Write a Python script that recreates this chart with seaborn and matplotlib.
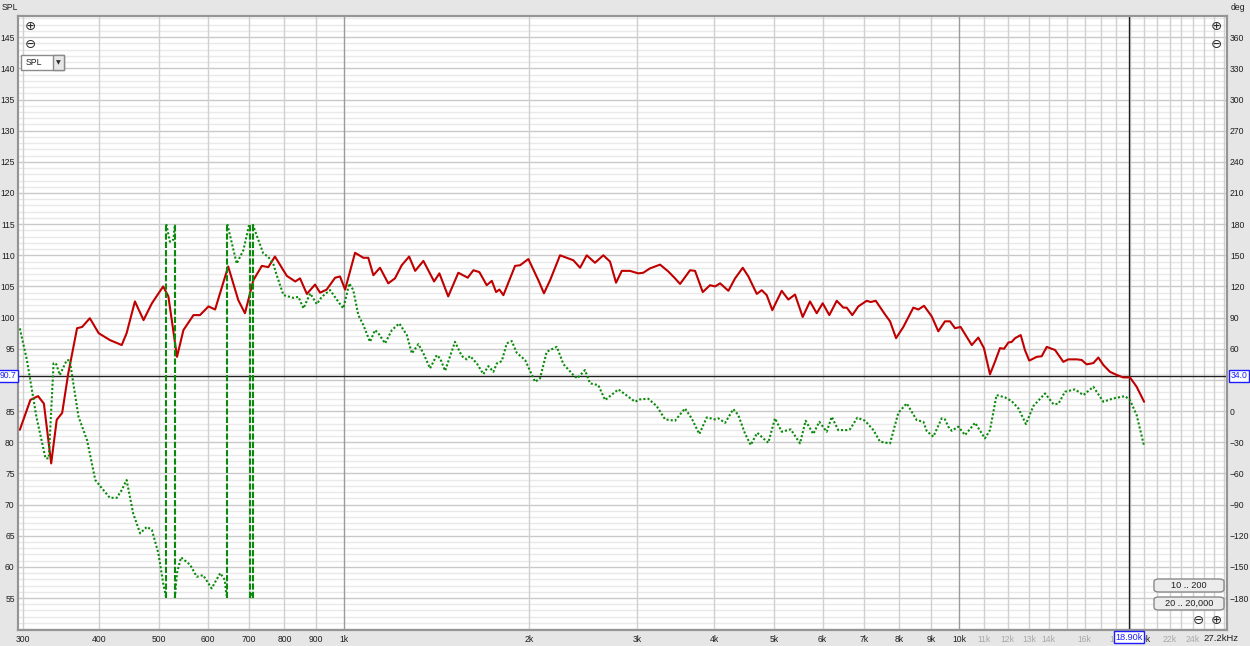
import numpy as np
import pandas as pd
import matplotlib
matplotlib.use("Agg")
import matplotlib.pyplot as plt
import matplotlib.transforms as mtransforms
from matplotlib.patches import FancyBboxPatch
import seaborn as sns

# SPL measurement (Hz, dB)
red_freq = [297, 309, 318, 325, 334, 341, 348, 356, 368, 375, 386, 399, 416, 435, 443, 457, 472, 487,
            508, 518, 535, 548, 569, 583, 602, 617, 648, 673, 690, 712, 735, 753, 772, 807, 833, 848,
            870, 897, 914, 937, 967, 985, 1004, 1042, 1075, 1095, 1116, 1144, 1180, 1210, 1241, 1276,
            1305, 1346, 1401, 1429, 1477, 1534, 1589, 1623, 1660, 1706, 1739, 1767, 1789, 1816, 1897,
            1933, 1994, 2070, 2114, 2163, 2245, 2302, 2360, 2420, 2481, 2559, 2640, 2707, 2769, 2829,
            2917, 3009, 3066, 3144, 3265, 3368, 3453, 3519, 3653, 3722, 3831, 3937, 4012, 4088, 4217,
            4324, 4450, 4545, 4690, 4778, 4868, 4971, 5149, 5278, 5412, 5570, 5724, 5870, 6003, 6154,
            6327, 6485, 6568, 6707, 6860, 7079, 7186, 7322, 7582, 7725, 7901, 8119, 8429, 8588, 8773,
            9029, 9255, 9489, 9669, 9851, 10060, 10490, 10750, 10980, 11230, 11440, 11660, 11840,
            12030, 12180, 12340, 12600, 12800, 13010, 13380, 13630, 13890, 14330, 14780, 15060,
            15540, 15830, 16130, 16540, 16850, 17170, 17600, 18050, 18500, 18970, 19450, 20000]
red_spl = [82.0, 86.8, 87.4, 86.2, 76.6, 83.6, 84.7, 91.0, 98.3, 98.5, 99.9, 97.5, 96.4, 95.6, 97.5,
           102.6, 99.6, 102.3, 105.0, 103.4, 93.7, 98.0, 100.4, 100.4, 101.8, 101.3, 108.2, 102.8,
           100.7, 106.0, 108.3, 108.1, 109.8, 106.7, 105.8, 106.3, 103.8, 105.3, 104.0, 104.5, 106.4,
           106.6, 104.5, 110.4, 109.6, 109.6, 106.8, 108.0, 105.5, 106.3, 108.4, 109.8, 107.5, 109.1,
           105.8, 107.1, 103.4, 107.2, 106.4, 107.6, 107.3, 105.2, 105.9, 104.1, 104.5, 103.6, 108.3,
           108.4, 109.4, 106.0, 103.9, 106.0, 110.0, 109.6, 109.2, 108.0, 110.0, 108.8, 110.0, 109.0,
           105.6, 107.5, 107.5, 107.1, 107.2, 107.9, 108.5, 107.4, 106.3, 105.4, 107.6, 107.5, 104.1,
           105.2, 105.0, 105.5, 104.3, 106.3, 108.0, 106.6, 103.8, 104.4, 103.6, 101.2, 104.3, 102.9,
           103.7, 100.1, 102.6, 100.7, 102.3, 100.4, 102.7, 101.6, 101.6, 100.4, 101.8, 102.7, 102.5,
           102.7, 100.5, 99.4, 96.7, 98.5, 101.6, 101.3, 101.9, 100.2, 97.8, 99.4, 99.4, 98.3, 98.5,
           95.6, 96.8, 95.1, 90.9, 92.9, 95.1, 95.0, 96.0, 96.1, 96.7, 97.2, 94.8, 93.1, 93.7, 93.8,
           95.3, 94.8, 92.9, 93.3, 93.3, 93.2, 92.5, 92.7, 93.6, 92.4, 91.3, 90.8, 90.4, 90.4, 88.9,
           86.5]

# phase (Hz, deg, unwrapped) - wrapped to +-180 when drawn
ph_freq = [297, 305, 316, 327, 331, 337, 340, 345, 354, 358, 370, 382, 394, 404, 416, 427, 435, 443,
           454, 466, 478, 487, 499, 508, 521, 528, 535, 543, 562, 576, 590, 609, 629, 640, 643, 669,
           686, 700, 707, 714, 739, 753, 767, 777, 797, 827, 843, 859, 881, 903, 920, 949, 979, 997,
           1020, 1035, 1055, 1075, 1102, 1123, 1137, 1166, 1196, 1230, 1265, 1289, 1321, 1346, 1380,
           1415, 1433, 1460, 1515, 1554, 1583, 1603, 1644, 1685, 1717, 1749, 1772, 1805, 1839, 1874,
           1909, 1970, 2045, 2083, 2136, 2218, 2273, 2360, 2395, 2465, 2512, 2591, 2658, 2793, 2882,
           2973, 3029, 3124, 3224, 3327, 3453, 3584, 3675, 3782, 3889, 4012, 4062, 4166, 4295, 4376,
           4487, 4584, 4699, 4806, 4897, 5021, 5149, 5326, 5514, 5632, 5795, 5927, 6094, 6209, 6364,
           6568, 6650, 6833, 7035, 7257, 7441, 7725, 7969, 8222, 8537, 8750, 8862, 9083, 9373, 9489,
           9608, 9730, 9975, 10230, 10620, 11020, 11230, 11510, 11880, 12180, 12490, 12850, 13210,
           13800, 14240, 14510, 14870, 15440, 15930, 16540, 17170, 17820, 18620, 18970, 19450, 20000]
ph_deg = [79.6, 49, -5.5, -45.5, -45.5, 46, 46, 34.7, 49, 49, -5.5, -28, -66.4, -74.4, -83.5, -83.5,
          -76, -66.4, -98.5, -117.7, -111.4, -114.5, -137, -165.8, -197, -195, -156, -140.8, -148,
          -159.5, -158, -170.7, -156, -162.7, -175, -218, -205, -182, -176, -184, -208.2, -211.5,
          -218, -229, -248.3, -251, -250, -261.1, -246.7, -257, -250, -243.5, -254.8, -261.1,
          -237.1, -243.5, -267.6, -277.2, -293.3, -282, -285, -294.8, -282, -275.6, -286.8, -304.5,
          -295.5, -304.5, -318.9, -306.1, -309.3, -321.2, -293.3, -307, -310.2, -307, -314.1,
          -324.4, -316.7, -322.2, -314.1, -311.9, -294.8, -292.6, -303.9, -310.9, -331.8, -328.5,
          -302.9, -298.1, -314.7, -325.3, -328.5, -320.5, -333.3, -335, -349.4, -339.1, -345, -351,
          -348.7, -348.1, -355.2, -368, -369.3, -357.4, -367, -382.1, -366.1, -368, -367, -371.3,
          -358.1, -363.8, -381.5, -392.7, -380.9, -386.3, -390.5, -367, -379.9, -377.6, -391.1,
          -369.3, -382.1, -370.3, -379.9, -365.5, -378.3, -378.3, -377.5, -366.4, -369.3, -378.3,
          -389.5, -391.1, -361.6, -352.6, -368.7, -370.3, -379.2, -384.7, -367, -368, -375, -379,
          -375, -383.1, -371.3, -386.3, -378.3, -344.6, -346.8, -350.4, -357.4, -372.5, -355.2,
          -343, -353.3, -353, -341.4, -339.1, -344.6, -336.6, -351, -347.8, -345.6, -349.4, -363.8,
          -393.7]

spl_ticks = list(range(55, 146, 5))
deg_ticks = list(range(-180, 361, 30))
freq_labels = [300, 400, 500, 600, 700, 800, 900, 1000, 2000, 3000, 4000, 5000, 6000, 7000, 8000,
               9000, 10000, 11000, 12000, 13000, 14000, 16000, 18000, 20000, 22000, 24000]
freq_text = ["300", "400", "500", "600", "700", "800", "900", "1k", "2k", "3k", "4k", "5k", "6k",
             "7k", "8k", "9k", "10k", "11k", "12k", "13k", "14k", "16k", "18k", "20k", "22k", "24k"]
grey_labels = ["11k", "12k", "13k", "14k", "16k", "18k", "22k", "24k"]
grid_freqs = [300, 400, 500, 600, 700, 800, 900, 1000, 2000, 3000, 4000, 5000, 6000, 7000, 8000,
              9000] + list(range(10000, 27001, 1000))

cursor_freq = 18900
cursor_spl = 90.7
cursor_deg = 34.0

W, H = 1250, 646
FS = 6.2
TXT = "#1e1e1e"
BLUE = "#1c1cff"


def px(x):
    return x / W


def py(y):
    return 1 - y / H


def wrap_segments(freq, deg):
    # split unwrapped phase where it crosses -180 + k*360, REW style
    f = np.asarray(freq, float)
    p = np.asarray(deg, float)
    rows, jumps = [], []
    seg = 0
    cur = [(f[0], p[0])]
    for i in range(len(f) - 1):
        lo, hi = sorted((p[i], p[i + 1]))
        ks = np.arange(np.ceil((lo + 180) / 360), np.floor((hi + 180) / 360) + 1)
        bounds = -180 + 360 * ks
        if p[i + 1] < p[i]:
            bounds = bounds[::-1]
        for b in bounds:
            t = (b - p[i]) / (p[i + 1] - p[i])
            fc = f[i] * (f[i + 1] / f[i]) ** t
            cur.append((fc, b))
            rows.append((seg, cur))
            jumps.append(fc)
            seg += 1
            cur = [(fc, b)]
        cur.append((f[i + 1], p[i + 1]))
    rows.append((seg, cur))
    recs = []
    for s, pts in rows:
        vals = np.array([v for _, v in pts])
        k = np.floor((vals.mean() + 180) / 360)
        for fr, v in pts:
            recs.append({"seg": s, "freq": fr, "deg": v - 360 * k})
    return pd.DataFrame(recs), jumps


sns.set_style("white")
plt.rcParams["font.family"] = ["Liberation Sans", "DejaVu Sans"]

fig = plt.figure(figsize=(W / 100, H / 100), dpi=100, facecolor="#e6e6e6")
ax = fig.add_axes([px(18.3), py(630), px(1227 - 18.3), (630 - 16) / H])
ax.set_facecolor("white")
ax.set_xscale("log")
ax.set_xlim(295.3, 27280)
ax.set_ylim(49.87, 148.4)

# grid
for v in np.arange(50, 149, 1):
    major = v % 5 == 0
    ax.axhline(v, color="#c9c9c9" if major else "#e9e9e9", lw=1.0, zorder=0)
for fq in grid_freqs:
    dark = fq in (1000, 10000)
    ax.axvline(fq, color="#9a9a9a" if dark else "#d0d0d0", lw=1.0, zorder=0)

sns.lineplot(x=red_freq, y=red_spl, ax=ax, color="#c00000", lw=1.5, estimator=None, sort=False,
             zorder=3, solid_joinstyle="round")

# cursor
ax.axhline(cursor_spl, color="#202020", lw=1.0, zorder=2)
ax.axvline(cursor_freq, color="#202020", lw=1.0, zorder=2)

ax.set_yticks(spl_ticks)
ax.set_xticks(freq_labels, labels=freq_text)
ax.xaxis.set_minor_locator(matplotlib.ticker.NullLocator())
ax.tick_params(axis="both", which="both", length=0, labelsize=FS, colors=TXT)
ax.tick_params(axis="y", pad=2.6)
ax.tick_params(axis="x", pad=3.5)
for lab in ax.get_xticklabels():
    if lab.get_text() in grey_labels:
        lab.set_color("#a8a8a8")

ax2 = ax.twinx()
ax2.set_ylim((49.87 - 55) * 6 - 180, (148.4 - 55) * 6 - 180)
ph_df, ph_jumps = wrap_segments(ph_freq, ph_deg)
sns.lineplot(data=ph_df, x="freq", y="deg", units="seg", estimator=None, sort=False, ax=ax2,
             color="#0a8a0a", lw=1.5, linestyle=(0, (1, 1)))
ax2.vlines(ph_jumps, -180, 180, colors="#0a8a0a", lw=1.5, linestyles=[(0, (3, 1))])
ax2.set_yticks(deg_ticks)
ax2.tick_params(axis="y", length=0, labelsize=FS, colors=TXT, pad=2.2)
ax2.set_xlabel("")
ax2.set_ylabel("")
ax.set_xlabel("")
ax.set_ylabel("")

for a in (ax, ax2):
    for sp in a.spines.values():
        sp.set_color("#959595")
        sp.set_linewidth(1.5)

# axis titles
fig.text(px(1.5), py(8), "SPL", fontsize=FS, ha="left", va="center", color=TXT)
fig.text(px(1231), py(8), "deg", fontsize=FS, ha="left", va="center", color=TXT)
fig.text(px(1238), py(638.5), "27.2kHz", ha="right", va="center", fontsize=FS + 0.6, color=TXT)

# cursor value boxes (drawn on the top axes so they cover tick labels)
box = dict(boxstyle="square,pad=0.18", fc="white", ec=BLUE, lw=1)
y_tr = mtransforms.blended_transform_factory(ax2.transAxes, ax.transData)
x_tr = mtransforms.blended_transform_factory(ax.transData, ax2.transAxes)
ax2.text(-0.0018, cursor_spl, f"{cursor_spl:.1f}", transform=y_tr, ha="right", va="center",
         fontsize=FS, color=BLUE, bbox=box, zorder=5, clip_on=False)
ax2.text(1.0028, cursor_spl, f"{cursor_deg:.1f}", transform=y_tr, ha="left", va="center",
         fontsize=FS, color=BLUE, bbox=box, zorder=5, clip_on=False)
ax2.text(cursor_freq, -0.0115, f"{cursor_freq / 1000:.2f}k", transform=x_tr, ha="center",
         va="center", fontsize=FS + 0.4, color=BLUE, bbox=box, zorder=5, clip_on=False)

# zoom buttons
for (x, y, s) in [(30, 26, "\u2295"), (30, 44, "\u2296"), (1216, 26, "\u2295"), (1216, 44, "\u2296"),
                  (1198, 620, "\u2296"), (1216, 620, "\u2295")]:
    fig.text(px(x), py(y), s, fontsize=9.5, ha="center", va="center", color="#2a2a2a",
             family="DejaVu Sans")

# range buttons
for (y0, y1, s) in [(579, 592, "10 .. 200"), (597, 610, "20 .. 20,000")]:
    fig.patches.append(FancyBboxPatch((px(1154), py(y1)), px(1224 - 1154), (y1 - y0) / H,
                                      boxstyle="round,pad=0,rounding_size=0.004",
                                      transform=fig.transFigure, fc="#ececec", ec="#8a8a8a",
                                      lw=1, zorder=6))
    fig.text(px(1189), py((y0 + y1) / 2), s, fontsize=FS + 0.4, ha="center", va="center",
             color=TXT, zorder=7)

# SPL dropdown
fig.patches.append(FancyBboxPatch((px(21), py(70)), px(43), 15 / H, boxstyle="square,pad=0",
                                  transform=fig.transFigure, fc="white", ec="#8a8a8a", lw=1,
                                  zorder=6))
fig.patches.append(FancyBboxPatch((px(52.5), py(70)), px(11.5), 15 / H, boxstyle="square,pad=0",
                                  transform=fig.transFigure, fc="#e8e8e8", ec="#8a8a8a", lw=1,
                                  zorder=6))
fig.text(px(26), py(62.5), "SPL", fontsize=FS, ha="left", va="center", color=TXT, zorder=7)
fig.text(px(58), py(62.5), "\u25bc", fontsize=4.5, ha="center", va="center", color="#303030",
         family="DejaVu Sans", zorder=7)

fig.savefig("out.png", dpi=100, facecolor=fig.get_facecolor())
